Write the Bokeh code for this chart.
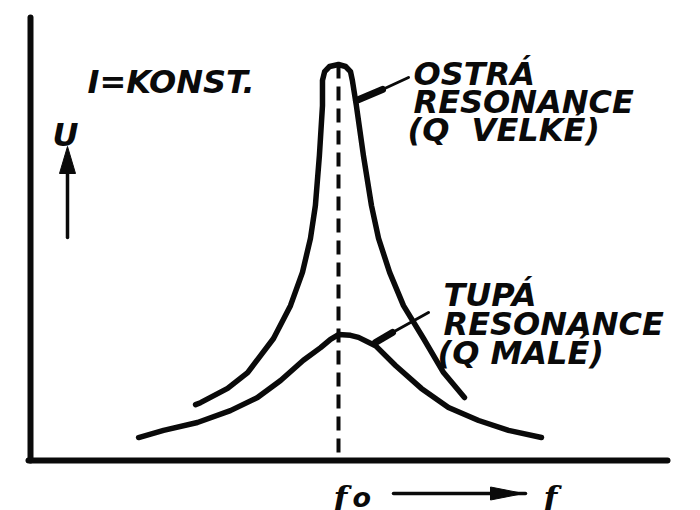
from bokeh.plotting import figure
from bokeh.models import Range1d
from bokeh.embed import file_html
from bokeh.resources import INLINE
from bokeh.core.properties import value

# Resonance curves, U against f (f in units of f0, U relative to the sharp peak)
sharp_f = [0.536, 0.552, 0.640, 0.705, 0.789, 0.844, 0.883, 0.909, 0.925, 0.938, 0.948,
           0.948, 0.955, 0.971, 1.0, 1.023, 1.039, 1.045, 1.058, 1.081, 1.107, 1.130,
           1.166, 1.211, 1.276, 1.341, 1.409]
sharp_u = [0.141, 0.146, 0.182, 0.222, 0.308, 0.391, 0.475, 0.561, 0.644, 0.770, 0.896,
           0.960, 0.982, 0.995, 1.0, 0.995, 0.982, 0.960, 0.896, 0.770, 0.644, 0.561,
           0.475, 0.391, 0.308, 0.222, 0.159]

broad_f = [0.351, 0.432, 0.542, 0.649, 0.737, 0.812, 0.886, 0.942, 0.974, 1.0, 1.039,
           1.065, 1.120, 1.185, 1.269, 1.357, 1.455, 1.552, 1.659]
broad_u = [0.058, 0.076, 0.096, 0.126, 0.159, 0.202, 0.253, 0.285, 0.306, 0.318, 0.316,
           0.311, 0.290, 0.240, 0.182, 0.134, 0.101, 0.076, 0.058]

f0 = 1.0

# labels
note_label = "I=KONST."
u_label = "U"
sharp_label = ["OSTRÁ", "RESONANCE", "(Q\u00a0 VELKÉ)"]
broad_label = ["TUPÁ", "RESONANCE", "(Q MALÉ)"]
f0_label = ("f", "o")
f_label = "f"

# drawing scale: pixels per unit along each axis
PX_F = 308.0
PX_U = 396.0

p = figure(width=700, height=510, output_backend="svg", toolbar_location=None,
           x_range=Range1d(-30 / PX_F, 670 / PX_F),
           y_range=Range1d(-50 / PX_U, 460 / PX_U),
           x_axis_location=None, y_axis_location=None, min_border=0)
p.grid.visible = False
p.outline_line_color = None
p.background_fill_color = "white"
p.border_fill_color = "white"

ink = "#0a0a0a"


def dx(px):
    return px / PX_F


def dy(px):
    return px / PX_U


# axes drawn as plain heavy strokes
p.line([0, 0], [0, dy(443)], line_width=6, line_color=ink, line_cap="round")
p.line([dx(-2), dx(637)], [0, 0], line_width=6, line_color=ink, line_cap="round")

# dashed marker at f0, down to the axis
p.line([f0, f0], [max(sharp_u), 0], line_width=4, line_color=ink, line_dash="14 8")

# the two resonance curves
p.line(sharp_f, sharp_u, line_width=5.5, line_color=ink, line_join="round", line_cap="round")
p.line(broad_f, broad_u, line_width=5.5, line_color=ink, line_join="round", line_cap="round")

# leader strokes from labels to curves
p.line([dx(345), dx(362)], [dy(118), dy(128)], line_width=7, line_color=ink, line_cap="round")
p.line([dx(362), dx(398)], [dy(128), dy(148)], line_width=3, line_color=ink, line_cap="round")
p.line([dx(326), dx(352)], [dy(360), dy(371)], line_width=7, line_color=ink, line_cap="round")
p.line([dx(352), dx(378)], [dy(371), dy(383)], line_width=3, line_color=ink, line_cap="round")

# upward arrow next to U
ux = dx(37)
p.line([ux, ux], [dy(223), dy(292)], line_width=3.5, line_color=ink, line_cap="round")
p.patch([ux - dx(8), ux, ux + dx(8)], [dy(287), dy(314), dy(287)], color=ink)

# rightward arrow along f
ay = dy(-33)
p.line([dx(363), dx(495)], [ay, ay], line_width=3.5, line_color=ink, line_cap="round")
p.patch([dx(460), dx(493), dx(460)], [ay + dy(6.5), ay, ay - dy(6.5)], color=ink)

font = value("DejaVu Sans")
size = "32px"
style = "bold italic"

p.text(x=[dx(57)], y=[dy(379)], text=[note_label], text_font=font, text_font_size=size,
       text_font_style=style, text_color=ink, text_baseline="alphabetic")
p.text(x=[dx(22)], y=[dy(326)], text=[u_label], text_font=font, text_font_size=size,
       text_font_style=style, text_color=ink, text_baseline="alphabetic")

for i, s in enumerate(sharp_label):
    p.text(x=[dx(383 - (6 if i == 2 else 0))], y=[dy(387 - 28 * i)], text=[s],
           text_font=font, text_font_size=size, text_font_style=style,
           text_color=ink, text_baseline="alphabetic")
for i, s in enumerate(broad_label):
    p.text(x=[dx(413 - (6 if i == 2 else 0))], y=[dy(166 - 29 * i)], text=[s],
           text_font=font, text_font_size=size, text_font_style=style,
           text_color=ink, text_baseline="alphabetic")

# frequency labels under the axis: italic f with descender
serif = value("DejaVu Serif")
p.text(x=[dx(303)], y=[dy(-37)], text=[f0_label[0]], text_font=serif,
       text_font_size="32px", text_font_style=style, text_color=ink,
       text_baseline="alphabetic")
p.text(x=[dx(322)], y=[dy(-37)], text=[f0_label[1]], text_font=font, text_font_size="27px",
       text_font_style=style, text_color=ink, text_baseline="alphabetic")
p.text(x=[dx(513)], y=[dy(-37)], text=[f_label], text_font=serif,
       text_font_size="32px", text_font_style=style, text_color=ink,
       text_baseline="alphabetic")

open("out.html", "w").write(file_html(p, INLINE))
